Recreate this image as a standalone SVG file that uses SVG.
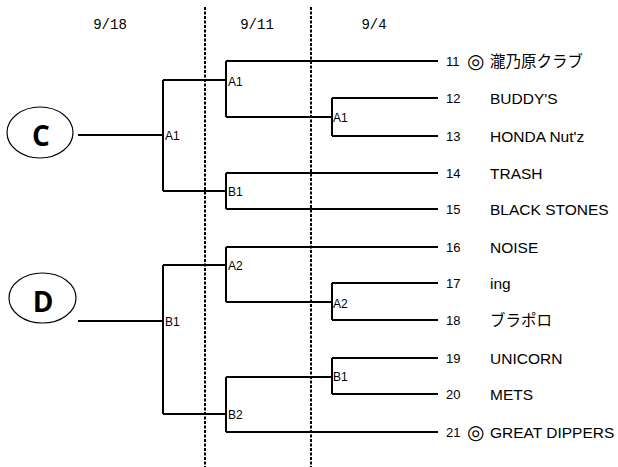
<svg xmlns="http://www.w3.org/2000/svg" width="618" height="467" viewBox="0 0 618 467">
<style>
.ln{stroke:#000;stroke-width:2;fill:none}
.dash{stroke:#000;stroke-width:2;stroke-dasharray:3 1.5;fill:none}
.date{font-family:"Liberation Mono",monospace;font-size:14px;fill:#000}
.lbl{font-family:"Liberation Sans",Arial,sans-serif;font-size:12px;fill:#000}
.num{font-family:"Liberation Sans",Arial,sans-serif;font-size:13px;fill:#000}
.name{font-family:"Liberation Sans","Noto Sans CJK JP",sans-serif;font-size:15.5px;fill:#000}
.mark{font-family:"DejaVu Sans",sans-serif;font-size:20px;fill:#000}
.circ{fill:#fff;stroke:#000;stroke-width:1.2}
.big{font-family:"Open Sans","Liberation Sans",sans-serif;font-weight:bold;font-size:28px;fill:#000}
</style>
<rect width="618" height="467" fill="#fff"/>
<g id="dates">
<text class="date" x="110" y="29" text-anchor="middle">9/18</text>
<text class="date" x="257" y="29" text-anchor="middle">9/11</text>
<text class="date" x="374" y="29" text-anchor="middle">9/4</text>
<line class="dash" x1="205" y1="7" x2="205" y2="467"/>
<line class="dash" x1="311" y1="7" x2="311" y2="467"/>
</g>
<g id="connectors">
<path class="ln" d="M78 135H163M163 80V191M163 80H226M163 191H226"/>
<path class="ln" d="M226 61V117M226 61H438M226 117H332M332 98V136M332 98H438M332 136H438"/>
<path class="ln" d="M226 173V209M226 173H438M226 209H438"/>
<path class="ln" d="M78 321H163M163 265V414M163 265H226M163 414H226"/>
<path class="ln" d="M226 247V302M226 247H438M226 302H332M332 283V320M332 283H438M332 320H438"/>
<path class="ln" d="M226 377V432M226 377H332M226 432H438M332 358V394M332 358H438M332 394H438"/>
</g>
<g id="group-C">
<ellipse class="circ" cx="40" cy="132.5" rx="33" ry="25.5"/>
<text class="big" x="41" y="146" text-anchor="middle">C</text>
</g>
<g id="group-D">
<ellipse class="circ" cx="42.5" cy="298" rx="33.5" ry="25"/>
<text class="big" x="43" y="312" text-anchor="middle">D</text>
</g>
<g id="match-labels">
<text class="lbl" x="165" y="139.5">A1</text>
<text class="lbl" x="228" y="85.5">A1</text>
<text class="lbl" x="228" y="195.5">B1</text>
<text class="lbl" x="333" y="121.5">A1</text>
<text class="lbl" x="165" y="325.5">B1</text>
<text class="lbl" x="228" y="269.5">A2</text>
<text class="lbl" x="228" y="418.5">B2</text>
<text class="lbl" x="333" y="307.5">A2</text>
<text class="lbl" x="333" y="381">B1</text>
</g>
<g id="team-11"><text class="num" x="446" y="66">11</text><text class="mark" x="467" y="68">◎</text><text class="name" x="490" y="66.5">瀧乃原クラブ</text></g>
<g id="team-12"><text class="num" x="446" y="103">12</text><text class="name" x="490" y="103.5">BUDDY'S</text></g>
<g id="team-13"><text class="num" x="446" y="141">13</text><text class="name" x="490" y="141.5">HONDA Nut'z</text></g>
<g id="team-14"><text class="num" x="446" y="178">14</text><text class="name" x="490" y="178.5">TRASH</text></g>
<g id="team-15"><text class="num" x="446" y="214">15</text><text class="name" x="490" y="214.5">BLACK STONES</text></g>
<g id="team-16"><text class="num" x="446" y="252">16</text><text class="name" x="490" y="252.5">NOISE</text></g>
<g id="team-17"><text class="num" x="446" y="288">17</text><text class="name" x="490" y="288.5">ing</text></g>
<g id="team-18"><text class="num" x="446" y="325">18</text><text class="name" x="490" y="325.5">ブラポロ</text></g>
<g id="team-19"><text class="num" x="446" y="363">19</text><text class="name" x="490" y="363.5">UNICORN</text></g>
<g id="team-20"><text class="num" x="446" y="399">20</text><text class="name" x="490" y="399.5">METS</text></g>
<g id="team-21"><text class="num" x="446" y="437">21</text><text class="mark" x="467" y="439">◎</text><text class="name" x="490" y="437.5">GREAT DIPPERS</text></g>
</svg>
